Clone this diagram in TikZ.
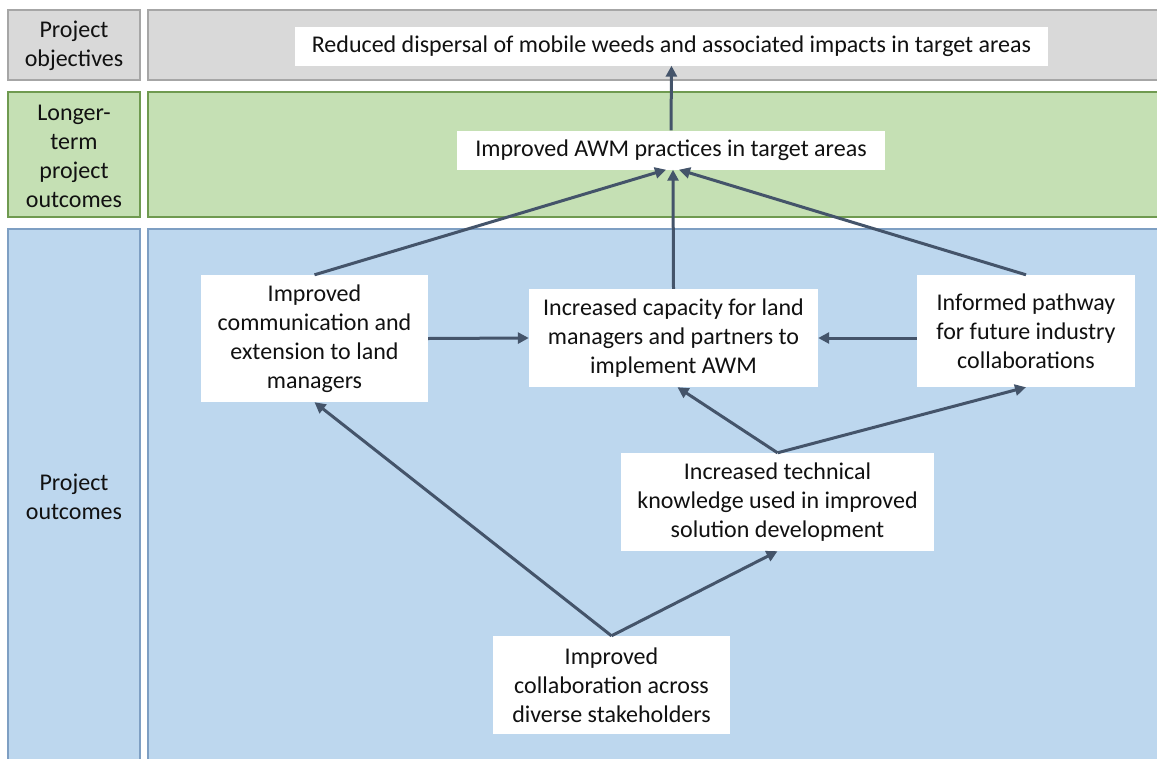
\documentclass[tikz,border=0pt]{standalone}
\usepackage{fontspec}
\setmainfont{Carlito}
\usetikzlibrary{arrows.meta}
\definecolor{greyfill}{HTML}{D9D9D9}
\definecolor{greyline}{HTML}{A6A6A6}
\definecolor{greenfill}{HTML}{C5E0B4}
\definecolor{greenline}{HTML}{6F9A50}
\definecolor{bluefill}{HTML}{BDD7EE}
\definecolor{blueline}{HTML}{7E9FC3}
\definecolor{arrowcol}{HTML}{44546A}
\definecolor{txt}{HTML}{111111}
\tikzset{
  panel/.style={line width=1.5pt, inner sep=0pt},
  greypanel/.style={panel, draw=greyline, fill=greyfill},
  greenpanel/.style={panel, draw=greenline, fill=greenfill},
  bluepanel/.style={panel, draw=blueline, fill=bluefill},
  label/.style={text=txt, align=center, font=\fontsize{24}{29}\selectfont},
  wbox/.style={fill=white, inner sep=0pt, text=txt, align=center, font=\fontsize{24}{29}\selectfont},
  conn/.style={draw=arrowcol, line width=3pt, -{Triangle[length=11pt,width=11pt]}},
}
\begin{document}
\begin{tikzpicture}[x=1pt,y=-1pt]
\useasboundingbox (0,0) rectangle (1157,758);
% panels
\draw[greypanel] (8,10) rectangle (140,80);
\draw[greypanel] (148,10) rectangle (1170,80);
\draw[greenpanel] (8,92) rectangle (140,217);
\draw[greenpanel] (148,92) rectangle (1170,217);
\draw[bluepanel] (8,229) rectangle (140,775);
\draw[bluepanel] (148,229) rectangle (1170,775);
% row labels
\node[label] (lobj) at (74,46) {Project\\objectives};
\node[label] (llong) at (74,156) {Longer-\\term\\project\\outcomes};
\node[label] (lproj) at (74,497) {Project\\outcomes};
% boxes
\node[wbox, minimum width=753pt, minimum height=39pt] (reduced) at (671.5,46) {Reduced dispersal of mobile weeds and associated impacts in target areas};
\node[wbox, minimum width=428pt, minimum height=39pt] (awm) at (671,150) {Improved AWM practices in target areas};
\node[wbox, minimum width=227pt, minimum height=127pt] (comm) at (314.5,338.5) {Improved\\communication and\\extension to land\\managers};
\node[wbox, minimum width=289pt, minimum height=98pt] (cap) at (673.5,338) {Increased capacity for land\\managers and partners to\\implement AWM};
\node[wbox, minimum width=218pt, minimum height=112pt] (inf) at (1026,331) {Informed pathway\\for future industry\\collaborations};
\node[wbox, minimum width=313pt, minimum height=98pt] (tech) at (777.5,502) {Increased technical\\knowledge used in improved\\solution development};
\node[wbox, minimum width=237pt, minimum height=98pt] (collab) at (611.5,685) {Improved\\collaboration across\\diverse stakeholders};
% connectors
\draw[conn] (awm.north) -- (reduced.south);
\draw[conn] (comm.north) -- ([xshift=-5pt]awm.south);
\draw[conn] (cap.north) -- ([xshift=2pt]awm.south);
\draw[conn] (inf.north) -- ([xshift=8pt]awm.south);
\draw[conn] (comm.east) -- (cap.west);
\draw[conn] (inf.west |- cap.east) -- (cap.east);
\draw[conn] (tech.north) -- ([xshift=4pt]cap.south);
\draw[conn] (tech.north) -- (inf.south);
\draw[conn] (collab.north) -- (comm.south);
\draw[conn] (collab.north) -- (tech.south);
\end{tikzpicture}
\end{document}
